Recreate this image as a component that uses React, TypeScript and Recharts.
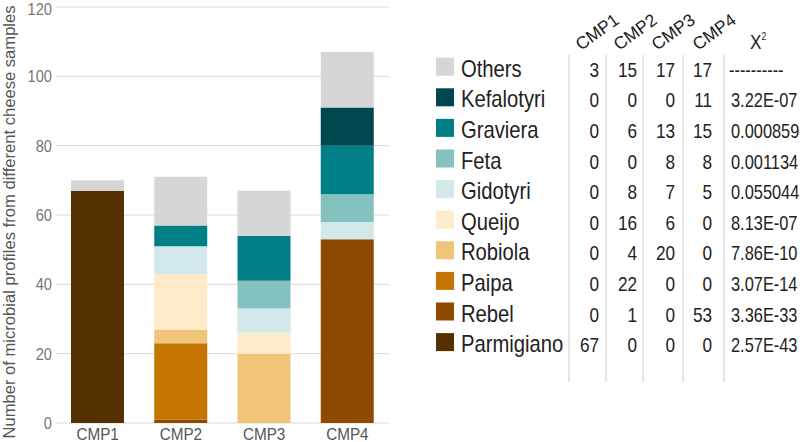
import React from 'react';
import { BarChart, Bar, XAxis, YAxis, CartesianGrid } from 'recharts';

// categories on the x axis
const categories = ['CMP1', 'CMP2', 'CMP3', 'CMP4'];

// cheese types, legend order (top to bottom)
const cheeses = ['Others', 'Kefalotyri', 'Graviera', 'Feta', 'Gidotyri', 'Queijo', 'Robiola', 'Paipa', 'Rebel', 'Parmigiano'];

// stacked segment heights as drawn in the bars
const barOthers = [3, 14, 13, 16];
const barKefalotyri = [0, 0, 0, 11];
const barGraviera = [0, 6, 13, 14];
const barFeta = [0, 0, 8, 8];
const barGidotyri = [0, 8, 7, 5];
const barQueijo = [0, 16, 6, 0];
const barRobiola = [0, 4, 20, 0];
const barPaipa = [0, 22, 0, 0];
const barRebel = [0, 1, 0, 53];
const barParmigiano = [67, 0, 0, 0];

// counts printed in the table
const tableOthers = [3, 15, 17, 17];
const tableKefalotyri = [0, 0, 0, 11];
const tableGraviera = [0, 6, 13, 15];
const tableFeta = [0, 0, 8, 8];
const tableGidotyri = [0, 8, 7, 5];
const tableQueijo = [0, 16, 6, 0];
const tableRobiola = [0, 4, 20, 0];
const tablePaipa = [0, 22, 0, 0];
const tableRebel = [0, 1, 0, 53];
const tableParmigiano = [67, 0, 0, 0];

const chiSquare = ['----------', '3.22E-07', '0.000859', '0.001134', '0.055044', '8.13E-07', '7.86E-10', '3.07E-14', '3.36E-33', '2.57E-43'];

const yTicks = [0, 20, 40, 60, 80, 100, 120];

const barValues: Record<string, number[]> = {
  Others: barOthers,
  Kefalotyri: barKefalotyri,
  Graviera: barGraviera,
  Feta: barFeta,
  Gidotyri: barGidotyri,
  Queijo: barQueijo,
  Robiola: barRobiola,
  Paipa: barPaipa,
  Rebel: barRebel,
  Parmigiano: barParmigiano,
};

const tableValues: Record<string, number[]> = {
  Others: tableOthers,
  Kefalotyri: tableKefalotyri,
  Graviera: tableGraviera,
  Feta: tableFeta,
  Gidotyri: tableGidotyri,
  Queijo: tableQueijo,
  Robiola: tableRobiola,
  Paipa: tablePaipa,
  Rebel: tableRebel,
  Parmigiano: tableParmigiano,
};

const colors: Record<string, string> = {
  Others: '#d6d6d6',
  Kefalotyri: '#01474f',
  Graviera: '#007f86',
  Feta: '#85c2bf',
  Gidotyri: '#d2e8ea',
  Queijo: '#ffebc9',
  Robiola: '#f0c57a',
  Paipa: '#c47400',
  Rebel: '#8e4a00',
  Parmigiano: '#543000',
};

const FONT = '"Liberation Sans", Arial, sans-serif';

const data = categories.map((name, i) => {
  const row: Record<string, string | number> = { name };
  cheeses.forEach((c) => {
    row[c] = barValues[c][i];
  });
  return row;
});

// stacking goes bottom -> top
const stackOrder = [...cheeses].reverse();

const colRight = [599, 637, 675, 712];
const headerX = [581, 619, 657, 698];
const sepX = [569, 606, 643, 683, 724];
const ROW0 = 76.7;
const PITCH = 30.6;

// the source picture is a little squeezed sideways, so text is narrowed to match
const XTick = (props: any) => {
  const { x, y, payload } = props;
  return (
    <text transform={`translate(${x}, ${y}) scale(0.9, 1)`} textAnchor="middle" dy="0.71em" fontSize={17} fill="#555">
      {payload.value}
    </text>
  );
};

const YTick = (props: any) => {
  const { x, y, payload } = props;
  return (
    <text transform={`translate(${x}, ${y}) scale(0.86, 1)`} textAnchor="end" dy="0.355em" fontSize={17} fill="#777">
      {payload.value}
    </text>
  );
};

const Table: React.FC = () => (
  <svg width={800} height={442} style={{ position: 'absolute', left: 0, top: 0, fontFamily: FONT }}>
    <text transform="translate(15, 222) rotate(-90)" textAnchor="middle" fontSize={16.6} fill="#555">
      Number of microbial profiles from different cheese samples
    </text>

    {sepX.map((x) => (
      <line key={x} x1={x} x2={x} y1={55} y2={382} stroke="#dcdcdc" strokeWidth={1.5} />
    ))}

    {categories.map((c, i) => (
      <text key={c} transform={`translate(${headerX[i]}, 51) rotate(-36)`} fontSize={17.5} fill="#222">
        {c}
      </text>
    ))}
    <text transform="translate(750, 49) scale(0.86, 1)" fontSize={20} fill="#222">
      X<tspan fontSize={10} dy={-9}>2</tspan>
    </text>

    {cheeses.map((c, r) => {
      const base = ROW0 + PITCH * r;
      return (
        <g key={c}>
          <rect x={436} y={base - 19} width={18} height={18} fill={colors[c]} />
          <text transform={`translate(461, ${base}) scale(0.88, 1)`} fontSize={23} fill="#222">
            {c}
          </text>
          {tableValues[c].map((v, k) => (
            <text
              key={k}
              transform={`translate(${colRight[k]}, ${base}) scale(0.86, 1)`}
              textAnchor="end"
              fontSize={20}
              fill="#222"
            >
              {v}
            </text>
          ))}
          <text transform={`translate(${r === 0 ? 729 : 731}, ${base}) scale(0.82, 1)`} fontSize={20} fill="#222">
            {chiSquare[r]}
          </text>
        </g>
      );
    })}
  </svg>
);

export default function App() {
  return (
    <div style={{ position: 'absolute', left: 0, top: 0, width: 800, height: 442, background: '#fff' }}>
      <div style={{ position: 'absolute', left: 0, top: 0 }}>
        <BarChart
          width={420}
          height={442}
          data={data}
          margin={{ top: 7, right: 31, bottom: 0, left: 0 }}
          barSize={53}
          style={{ fontFamily: FONT }}
        >
          <CartesianGrid vertical={false} stroke="#d9d9d9" />
          <XAxis
            dataKey="name"
            height={19}
            axisLine={false}
            tickLine={false}
            tickSize={0}
            tickMargin={5}
            tick={<XTick />}
          />
          <YAxis
            width={56}
            domain={[0, 120]}
            ticks={yTicks}
            axisLine={false}
            tickLine={false}
            tickSize={0}
            tickMargin={4}
            tick={<YTick />}
          />
          {stackOrder.map((c) => (
            <Bar key={c} dataKey={c} stackId="a" fill={colors[c]} isAnimationActive={false} />
          ))}
        </BarChart>
      </div>
      <Table />
    </div>
  );
}
